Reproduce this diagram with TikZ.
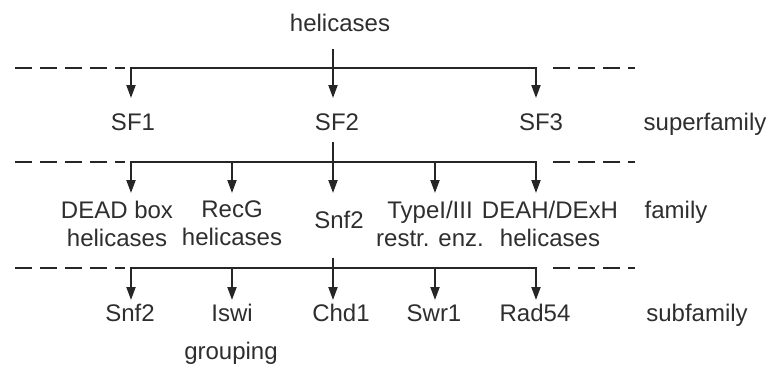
\documentclass[tikz,border=0pt]{standalone}
\usepackage{fontspec}
\setmainfont{Liberation Sans}
\usetikzlibrary{arrows.meta}
\definecolor{ink}{HTML}{262626}
\definecolor{txt}{HTML}{2E2E2E}
\begin{document}
\begin{tikzpicture}[x=1pt,y=-1pt,
  bar/.style={line width=2pt, draw=ink, line cap=rect},
  conn/.style={line width=2pt, draw=ink},
  arr/.style={line width=2pt, draw=ink, -{Triangle[length=13pt,width=9pt]}},
  dsh/.style={line width=2pt, draw=ink, dash pattern=on 17pt off 8pt},
  lbl/.style={font=\fontsize{24}{28}\selectfont, text=txt, inner sep=0pt,
              text height=17.5pt, text depth=5pt, align=center, anchor=north},
  lbltwo/.style={font=\fontsize{24}{28}\selectfont, text=txt, inner sep=0pt,
              align=center, anchor=north},
]
\useasboundingbox (0,0) rectangle (773,367);

% labels
\node[lbl] (hel) at (340,14) {helicases};

\node[lbl] (sf1) at (133,113) {SF1};
\node[lbl] (sf2) at (337,113) {SF2};
\node[lbl] (sf3) at (541,113) {SF3};
\node[lbl] (supfam) at (705,113) {superfamily};

\node[lbltwo] (dead) at (117,201) {DEAD box\\helicases};
\node[lbltwo] (recg) at (232,201) {RecG\\helicases};
\node[lbl] (snfA) at (339,211) {Snf2};
\node[lbltwo] (type) at (430,201) {TypeI/III\\restr. enz.};
\node[lbltwo] (deah) at (550,201) {DEAH/DExH\\helicases};
\node[lbl] (fam) at (676,201) {family};

\node[lbl] (snfB) at (130,304) {Snf2};
\node[lbl] (iswi) at (232,304) {Iswi};
\node[lbl] (chd) at (341,304) {Chd1};
\node[lbl] (swr) at (434,304) {Swr1};
\node[lbl] (rad) at (535,304) {Rad54};
\node[lbl] (subfam) at (697,304) {subfamily};
\node[lbl] (grp) at (231,342) {grouping};

% junction coordinates
\coordinate (a1) at (131,68);
\coordinate (a2) at (333,68);
\coordinate (a3) at (536,68);
\coordinate (dl1) at (15,68);
\coordinate (dl1e) at (125,68);
\coordinate (dr1) at (553,68);
\coordinate (dr1e) at (635,68);

\coordinate (b1) at (131,162);
\coordinate (b2) at (232,162);
\coordinate (b3) at (333,162);
\coordinate (b4) at (435,162);
\coordinate (b5) at (536,162);
\coordinate (dl2) at (15,162);
\coordinate (dl2e) at (125,162);
\coordinate (dr2) at (553,162);
\coordinate (dr2e) at (635,162);

\coordinate (c1) at (131,268);
\coordinate (c2) at (232,268);
\coordinate (c3) at (333,268);
\coordinate (c4) at (435,268);
\coordinate (c5) at (536,268);
\coordinate (dl3) at (15,268);
\coordinate (dl3e) at (125,268);
\coordinate (dr3) at (553,268);
\coordinate (dr3e) at (635,268);

% level 1
\draw[conn, shorten <=12.5pt] (a2 |- hel.south) -- (a2);
\draw[bar] (a1) -- (a3);
\draw[dsh] (dl1) -- (dl1e);
\draw[dsh] (dr1) -- (dr1e);
\draw[arr, shorten >=15pt] (a1) -- (a1 |- sf1.north);
\draw[arr, shorten >=15pt] (a2) -- (a2 |- sf2.north);
\draw[arr, shorten >=15pt] (a3) -- (a3 |- sf3.north);

% level 2
\draw[conn, shorten <=6.5pt] (b3 |- sf2.south) -- (b3);
\draw[bar] (b1) -- (b5);
\draw[dsh] (dl2) -- (dl2e);
\draw[dsh] (dr2) -- (dr2e);
\draw[arr, shorten >=8pt] (b1) -- (b1 |- dead.north);
\draw[arr, shorten >=8pt] (b2) -- (b2 |- recg.north);
\draw[arr, shorten >=18pt] (b3) -- (b3 |- snfA.north);
\draw[arr, shorten >=8pt] (b4) -- (b4 |- type.north);
\draw[arr, shorten >=8pt] (b5) -- (b5 |- deah.north);

% level 3
\draw[conn, shorten <=24.5pt] (c3 |- snfA.south) -- (c3);
\draw[bar] (c1) -- (c5);
\draw[dsh] (dl3) -- (dl3e);
\draw[dsh] (dr3) -- (dr3e);
\draw[arr, shorten >=4pt] (c1) -- (c1 |- snfB.north);
\draw[arr, shorten >=4pt] (c2) -- (c2 |- iswi.north);
\draw[arr, shorten >=4pt] (c3) -- (c3 |- chd.north);
\draw[arr, shorten >=4pt] (c4) -- (c4 |- swr.north);
\draw[arr, shorten >=4pt] (c5) -- (c5 |- rad.north);
\end{tikzpicture}
\end{document}
